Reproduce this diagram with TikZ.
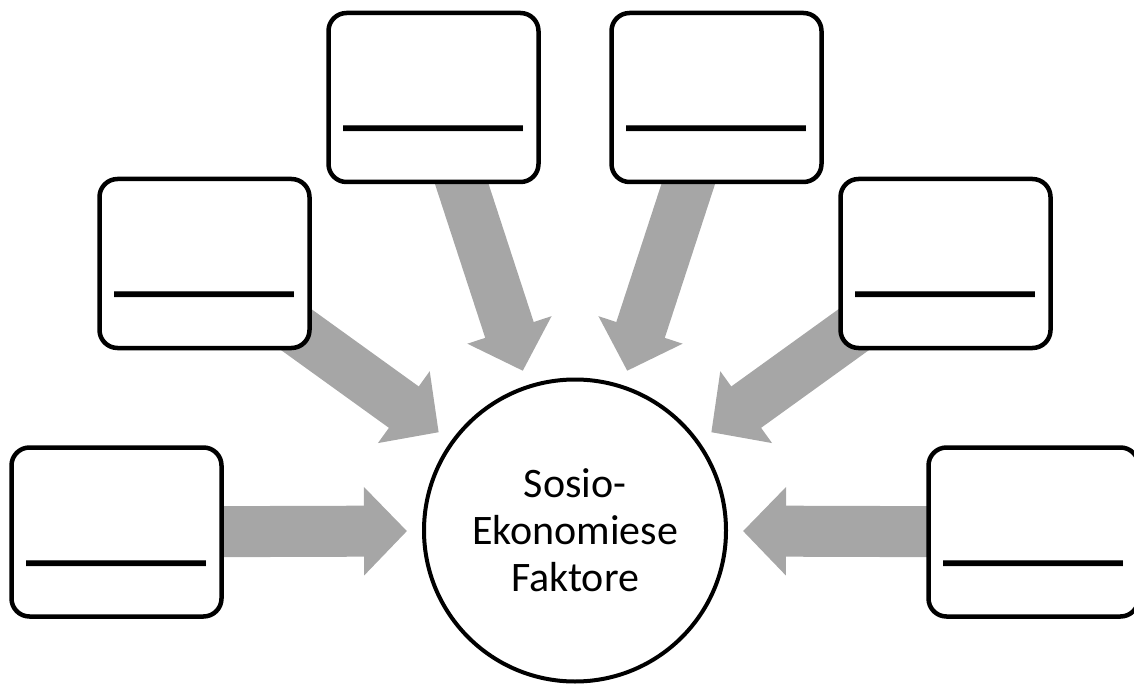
\documentclass[tikz,border=0pt]{standalone}
\usepackage{fontspec}
\setmainfont{Carlito}
\usetikzlibrary{arrows.meta,backgrounds}
\definecolor{arrowgray}{HTML}{A6A6A6}

\begin{document}
\begin{tikzpicture}[x=1pt,y=-1pt,
    box/.style={rounded corners=18pt, draw, line width=4.5pt, fill=white, minimum width=210pt, minimum height=169pt},
    hub/.style={circle, draw, line width=4pt, fill=white, minimum size=302pt, inner sep=0pt, align=center, font=\fontsize{42}{47}\selectfont},
    blank/.style={font=\bfseries\fontsize{72.3}{80}\selectfont, inner sep=0pt},
    feed/.style={line width=51pt, draw=arrowgray, -{Triangle[length=43pt,width=86pt]}, shorten >=15pt}]
  \useasboundingbox (0,0) rectangle (1134,684);
  \node [hub] (hub) at (575,530.5) {Sosio-\\Ekonomiese\\Faktore};
  \foreach \n/\x/\y in {1/116.5/532, 2/204.5/263.5, 3/433.5/97.5, 4/716.5/97.5, 5/945.5/263.5, 6/1033.5/532} {
    \node [box] (b\n) at (\x,\y) {};
    \node [blank] (l\n) at ([yshift=-29.5pt]b\n.center) {\_\_\_\_\_};
    \begin{scope}[on background layer]
      \draw [feed] (b\n.center) -- (hub);
    \end{scope}
  }
\end{tikzpicture}
\end{document}
